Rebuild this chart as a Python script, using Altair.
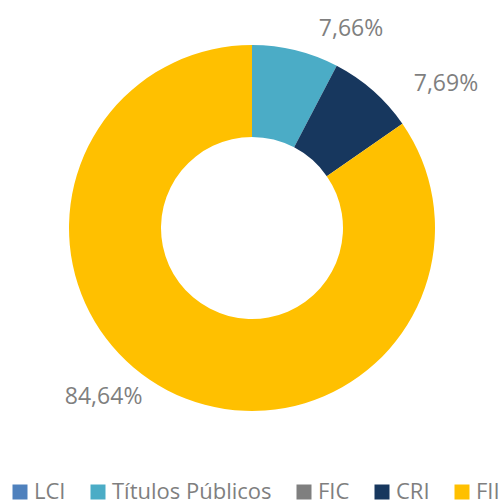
import altair as alt
import pandas as pd

categories = ["LCI", "Títulos Públicos", "FIC", "CRI", "FII"]
values = [0.0, 7.66, 0.0, 7.69, 84.64]
labels = ["", "7,66%", "", "7,69%", "84,64%"]
colors = ["#4F81BD", "#4BACC6", "#7F7F7F", "#17375E", "#FFC000"]

df = pd.DataFrame({"cat": categories, "val": values, "label": labels,
                   "order": list(range(len(categories)))})
total = sum(values)

color = alt.Color("cat:N", sort=categories,
                  scale=alt.Scale(domain=categories, range=colors),
                  legend=alt.Legend(title=None, orient="none", legendX=9, legendY=481,
                                    direction="horizontal", columns=5, padding=0,
                                    symbolType="square", symbolSize=225,
                                    symbolStrokeWidth=0, labelFontSize=22,
                                    labelFont="Open Sans", labelColor="#7F7F7F",
                                    columnPadding=21, labelOffset=3, labelLimit=400))

arcs = alt.Chart(df).mark_arc(outerRadius=183, innerRadius=91, strokeWidth=0).encode(
    theta=alt.Theta("val:Q", stack=True),
    order=alt.Order("order:Q"),
    color=color,
    x=alt.value(252), y=alt.value(228),
)

text_base = alt.Chart(df).transform_window(
    cum="sum(val)", sort=[alt.SortField("order")]
).transform_calculate(
    mid="datum.cum - datum.val / 2"
)

def lab(cat, dx, dy):
    return text_base.transform_filter(alt.datum.cat == cat).mark_text(
        radius=210, dx=dx, dy=dy, font="Open Sans", fontSize=23, color="#7F7F7F"
    ).encode(
        theta=alt.Theta("mid:Q", stack=None,
                        scale=alt.Scale(domain=[0, total], range=[0, 6.283185307])),
        text="label:N",
        x=alt.value(252), y=alt.value(228),
    )

chart = alt.layer(
    arcs,
    lab("Títulos Públicos", 49, 5),
    lab("CRI", 55, 13),
    lab("FII", -51, -17),
).resolve_scale(theta="independent").properties(
    width=504, height=504, autosize=alt.AutoSizeParams(type="none"), padding=0
).configure_view(stroke=None)

chart.save("out.html", embed_options={"renderer": "svg", "actions": False})
